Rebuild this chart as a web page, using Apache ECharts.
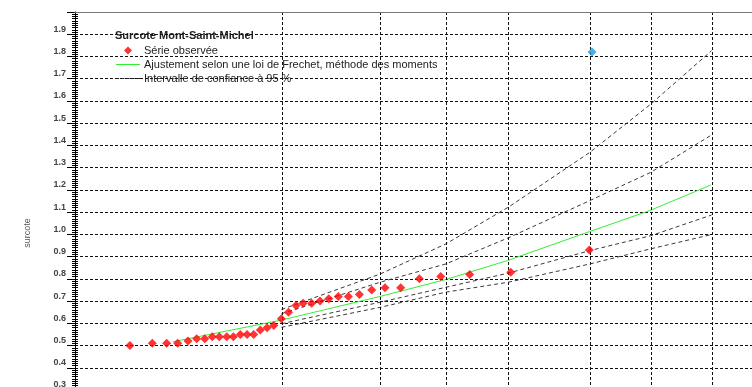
<!DOCTYPE html>
<html><head><meta charset="utf-8">
<script src="https://cdn.jsdelivr.net/npm/echarts@6/dist/echarts.min.js"></script>
<style>html,body{margin:0;padding:0;background:#fff}#c{width:752px;height:387px}</style>
</head><body><div id="c"></div>
<script>
// Observed series: Gumbel reduced variable u and surge value (m)
const obsU = [-1.370,-1.114,-0.949,-0.823,-0.705,-0.605,-0.513,-0.426,-0.346,-0.261,-0.185,-0.105,-0.028,0.048,0.124,0.201,0.278,0.365,0.447,0.533,0.614,0.713,0.808,0.908,1.018,1.133,1.259,1.401,1.553,1.733,1.947,2.192,2.524,2.994,3.895];
const obsV = [0.50,0.51,0.51,0.51,0.52,0.53,0.53,0.54,0.54,0.54,0.54,0.55,0.55,0.55,0.57,0.58,0.59,0.62,0.65,0.68,0.69,0.69,0.70,0.71,0.72,0.72,0.73,0.75,0.76,0.76,0.80,0.81,0.82,0.83,0.93];
// Historical value (blue)
const histU = [3.926];
const histV = [1.82];
// Fitted Frechet curve
const fitU = [-0.877,0.361,1.488,2.233,2.955,3.895,4.588,5.287];
const fitV = [0.517,0.614,0.720,0.795,0.882,1.012,1.107,1.222];
// Return periods (vertical grid lines and confidence interval nodes)
const returnPeriods = [2,5,10,20,50,100,200];
const ciUpperA = [0.662,0.822,0.957,1.123,1.369,1.586,1.826];
const ciUpperB = [0.643,0.785,0.867,0.985,1.152,1.279,1.447];
const ciLowerA = [0.598,0.695,0.762,0.826,0.927,0.994,1.087];
const ciLowerB = [0.582,0.672,0.740,0.785,0.867,0.935,0.999];

const titleText = 'Surcote Mont-Saint-Michel';
const nameObs = 'Série observée';
const nameFit = 'Ajustement selon une loi de Frechet, méthode des moments';
const nameCI = 'Intervalle de confiance à 95 %';
const yTitle = 'surcote';

const gumbel = T => -Math.log(-Math.log(1 - 1 / T));
const zip = (a, b) => a.map((v, i) => [v, b[i]]);
const ciU = returnPeriods.map(gumbel);
const FONT = '"Liberation Sans", Arial, sans-serif';

const iconDiamond = 'path://M4,0L8,4L4,8L0,4Z';
const iconLine = 'path://M0,0H24V1H0Z';
const iconDash = 'path://M0,0h3v1h-3zM5,0h3v1h-3zM10,0h3v1h-3zM15,0h3v1h-3zM20,0h3v1h-3z';

const chart = echarts.init(document.getElementById('c'), null, {renderer: 'canvas'});
const ciStyle = {color: '#3a3a3a', width: 1, type: [4, 3]};
const ciSeries = [ciUpperA, ciUpperB, ciLowerA, ciLowerB].map(arr => ({
  name: nameCI, type: 'line', data: zip(ciU, arr), showSymbol: false, symbol: 'none',
  lineStyle: ciStyle, itemStyle: {color: '#222'}, silent: true, z: 3
}));

const yCommon = {type: 'value', min: 0.3, max: 2.0, interval: 0.1, position: 'left', offset: 0};
const gridDash = {color: '#111', width: 1, type: [3, 2]};

chart.setOption({
  animation: false,
  textStyle: {fontFamily: FONT},
  grid: {left: 75, top: 12, width: 698, height: 378, outerBoundsMode: 'none', containLabel: false,
    show: false},
  xAxis: [
    {type: 'value', min: -2, max: 6, position: 'bottom',
      axisLine: {show: false}, axisTick: {show: false}, axisLabel: {show: false}, splitLine: {show: false}},
    {type: 'value', min: -2, max: 6, position: 'top', z: 5,
      axisLine: {show: true, onZero: false, lineStyle: {color: '#777', width: 1}},
      axisTick: {show: false}, axisLabel: {show: false}, splitLine: {show: false}}
  ],
  yAxis: [
    Object.assign({}, yCommon, {
      axisLine: {show: true, onZero: false, lineStyle: {color: '#000', width: 1}},
      axisTick: {show: true, length: 8, lineStyle: {color: '#000'}},
      minorTick: {show: true, splitNumber: 10, length: 3, lineStyle: {color: '#000'}},
      axisLabel: {show: true, margin: 9, fontSize: 9, fontWeight: 'bold', color: '#444', verticalAlign: 'bottom', lineHeight: 10,
        formatter: v => (v >= 1.95 ? '' : v.toFixed(1))},
      splitLine: {show: true, lineStyle: gridDash}
    }),
    Object.assign({}, yCommon, {
      axisLine: {show: false, onZero: false},
      axisTick: {show: true, inside: true, length: 3, lineStyle: {color: '#000'}},
      minorTick: {show: true, splitNumber: 10, length: 3, lineStyle: {color: '#000'}},
      axisLabel: {show: false}, splitLine: {show: false}
    })
  ],
  legend: {
    orient: 'vertical', left: 116, top: 44, itemWidth: 24, itemHeight: 8, itemGap: 1,
    padding: 0, selectedMode: false, symbolKeepAspect: true,
    textStyle: {fontSize: 11, color: '#222', fontFamily: FONT, lineHeight: 13, padding: [0, 0, 0, -1]},
    data: [
      {name: nameObs, icon: iconDiamond, itemStyle: {color: '#ff0000'}},
      {name: nameFit, icon: iconLine, itemStyle: {color: '#33ee33'}},
      {name: nameCI, icon: iconDash, itemStyle: {color: '#222'}}
    ]
  },
  graphic: [
    {type: 'text', left: 115, top: 30, style: {text: titleText, font: 'bold 11px ' + FONT, fill: '#222'}},
    {type: 'text', x: 28, y: 233, rotation: Math.PI / 2,
      style: {text: yTitle, font: '9px ' + FONT, fill: '#555', align: 'center', verticalAlign: 'middle'}}
  ],
  series: [
    {name: nameFit, type: 'line', data: zip(fitU, fitV), showSymbol: false, symbol: 'none', smooth: false,
      lineStyle: {color: '#33ee33', width: 1}, itemStyle: {color: '#33ee33'}, z: 4, silent: true,
      markLine: {silent: true, symbol: 'none', label: {show: false},
        lineStyle: gridDash,
        data: returnPeriods.map(T => ({xAxis: gumbel(T)}))}
    },
    ...ciSeries,
    {name: nameObs, type: 'scatter', data: zip(obsU, obsV), symbol: 'diamond', symbolSize: 9,
      itemStyle: {color: '#ff0000'}, z: 5, silent: true},
    {name: 'Valeur historique', type: 'scatter', data: zip(histU, histV), symbol: 'diamond', symbolSize: 9,
      itemStyle: {color: '#1e9be0'}, z: 5, silent: true}
  ]
});
</script></body></html>
